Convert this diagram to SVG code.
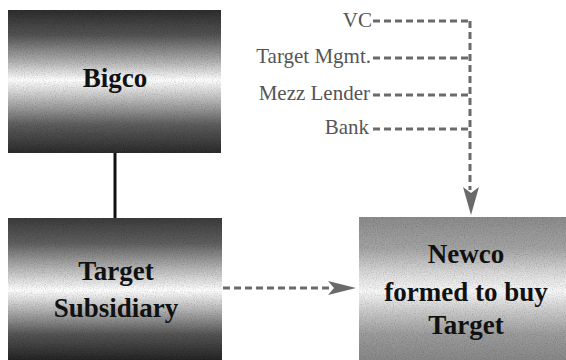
<svg xmlns="http://www.w3.org/2000/svg" width="566" height="360" viewBox="0 0 566 360">
<style>
.box-label{font-family:'Liberation Serif',serif;font-weight:bold;font-size:27px;fill:#111;text-anchor:middle}
.src-label{font-family:'Liberation Serif',serif;font-size:21px;fill:#555;text-anchor:end}
.dash{fill:none;stroke:#6a6a6a;stroke-width:3;stroke-dasharray:7 4}
.solid{fill:none;stroke:#111;stroke-width:3}
.head{fill:#6a6a6a}
</style>
<defs>
<linearGradient id="gBig" x1="0" y1="0" x2="0" y2="1">
<stop offset="0" stop-color="#2e2e2e"/>
<stop offset="0.18" stop-color="#555"/>
<stop offset="0.36" stop-color="#b0b0b0"/>
<stop offset="0.49" stop-color="#ffffff"/>
<stop offset="0.62" stop-color="#bdbdbd"/>
<stop offset="0.80" stop-color="#5e5e5e"/>
<stop offset="1" stop-color="#2c2c2c"/>
</linearGradient>
<linearGradient id="gTgt" x1="0" y1="0" x2="0" y2="1">
<stop offset="0" stop-color="#3c3c3c"/>
<stop offset="0.18" stop-color="#606060"/>
<stop offset="0.37" stop-color="#bcbcbc"/>
<stop offset="0.51" stop-color="#ffffff"/>
<stop offset="0.64" stop-color="#b8b8b8"/>
<stop offset="0.82" stop-color="#555"/>
<stop offset="1" stop-color="#262626"/>
</linearGradient>
<linearGradient id="gNew" x1="0" y1="0" x2="0" y2="1">
<stop offset="0" stop-color="#8c8c8c"/>
<stop offset="0.22" stop-color="#a4a4a4"/>
<stop offset="0.40" stop-color="#dcdcdc"/>
<stop offset="0.52" stop-color="#f8f8f8"/>
<stop offset="0.65" stop-color="#cdcdcd"/>
<stop offset="0.82" stop-color="#9c9c9c"/>
<stop offset="1" stop-color="#888"/>
</linearGradient>
<filter id="grain" x="0" y="0" width="1" height="1">
<feTurbulence type="fractalNoise" baseFrequency="0.9" numOctaves="2" seed="4" result="n"/>
<feColorMatrix in="n" type="matrix" values="0 0 0 0 0  0 0 0 0 0  0 0 0 0 0  0 0 0 0.7 -0.3" result="specks"/>
<feComposite in="specks" in2="SourceGraphic" operator="in" result="clipped"/>
<feMerge><feMergeNode in="SourceGraphic"/><feMergeNode in="clipped"/></feMerge>
</filter>
</defs>

<g id="connectors">
<line class="solid" x1="115" y1="153" x2="115" y2="218"/>
<path class="dash" d="M373 21 H470 M373 58 H470 M373 95 H470 M373 129 H470 M470 21 V190"/>
<polygon class="head" points="471,215 463,187 471,193 479,187"/>
<line class="dash" x1="223" y1="288" x2="332" y2="288"/>
<polygon class="head" points="356,288 328,281 334,288 328,295"/>
</g>

<g id="bigco">
<rect x="8" y="10" width="213" height="143" fill="url(#gBig)" filter="url(#grain)"/>
<text class="box-label" font-family="Liberation Serif" x="115" y="87">Bigco</text>
</g>

<g id="target-subsidiary">
<rect x="8" y="218" width="214" height="142" fill="url(#gTgt)" filter="url(#grain)"/>
<text class="box-label" font-family="Liberation Serif" x="116" y="280">Target</text>
<text class="box-label" font-family="Liberation Serif" x="116" y="317">Subsidiary</text>
</g>

<g id="newco">
<rect x="359" y="217" width="207" height="143" fill="url(#gNew)" filter="url(#grain)"/>
<text class="box-label" font-family="Liberation Serif" x="466" y="263">Newco</text>
<text class="box-label" font-family="Liberation Serif" x="466" y="301">formed to buy</text>
<text class="box-label" font-family="Liberation Serif" x="466" y="334">Target</text>
</g>

<g id="vc"><text class="src-label" font-family="Liberation Serif" x="372" y="27">VC</text></g>
<g id="target-mgmt"><text class="src-label" font-family="Liberation Serif" x="371" y="63">Target Mgmt.</text></g>
<g id="mezz-lender"><text class="src-label" font-family="Liberation Serif" x="370" y="100">Mezz Lender</text></g>
<g id="bank"><text class="src-label" font-family="Liberation Serif" x="369" y="134">Bank</text></g>
</svg>
